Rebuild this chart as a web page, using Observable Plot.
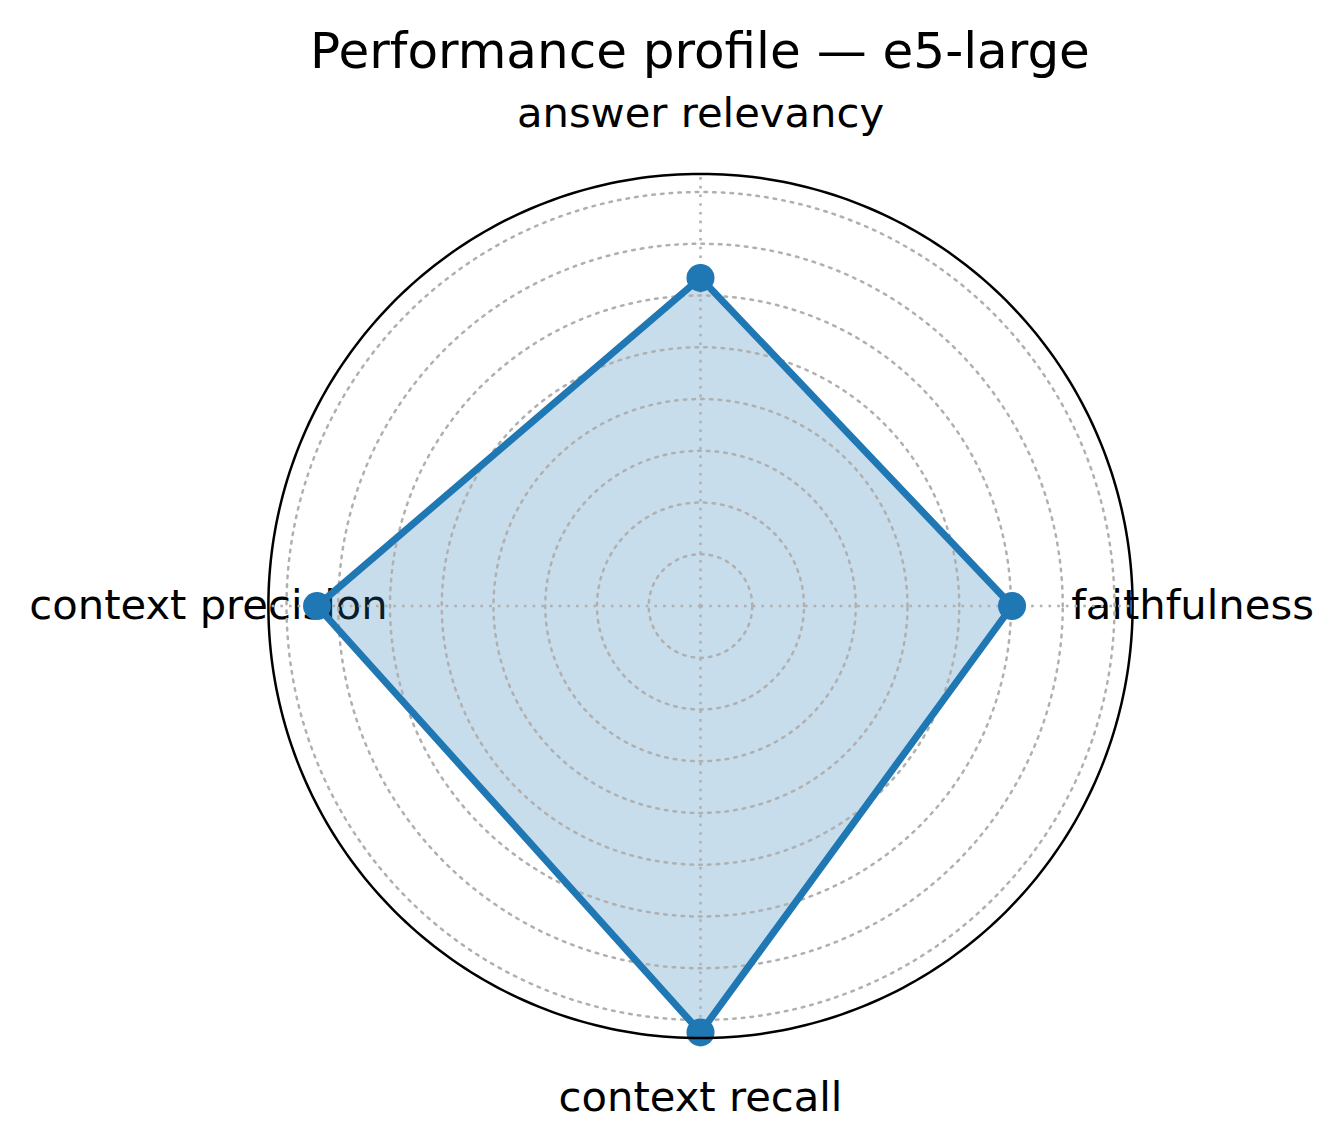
<!DOCTYPE html>
<html>
<head>
<meta charset="utf-8">
<script src="https://cdn.jsdelivr.net/npm/d3@7"></script>
<script src="https://cdn.jsdelivr.net/npm/@observablehq/plot@0.6"></script>
<style>
  html, body { margin: 0; padding: 0; background: #fff; }
  #wrap { width: 1343px; height: 1148px; position: relative; font-family: "DejaVu Sans", sans-serif; }
  #title { box-sizing: border-box; width: 1343px; height: 88px; padding-top: 14px; padding-left: 57px;
           text-align: center; font-size: 50px; line-height: 74px; color: #000; white-space: nowrap; }
  svg { display: block; }
</style>
</head>
<body>
<div id="wrap">
  <div id="title">Performance profile — e5-large</div>
  <div id="chart"></div>
</div>
<script>
// ---- data ----
const categories = ["faithfulness", "answer relevancy", "context precision", "context recall"];
const values = [0.602, 0.634, 0.741, 0.824];
const ringTicks = [0.1, 0.2, 0.3, 0.4, 0.5, 0.6, 0.7, 0.8];
const rMax = 0.835;

// ---- layout ----
const W = 1343, H = 1060;
const unit = 517.5;          // px per 1.0
const cx = 700, cy = 517.5;  // centre in svg px
const labelR = 492 / unit;

const n = categories.length;
const angle = i => (i / n) * 2 * Math.PI; // counter-clockwise from east
const pts = categories.map((c, i) => ({
  cat: c,
  v: values[i],
  x: values[i] * Math.cos(angle(i)),
  y: values[i] * Math.sin(angle(i)),
  lx: labelR * Math.cos(angle(i)),
  ly: labelR * Math.sin(angle(i)),
  sx: rMax * Math.cos(angle(i)),
  sy: rMax * Math.sin(angle(i))
}));
const closed = [...pts, pts[0]];

const circ = (r, k = 360) => d3.range(k + 1).map(j => {
  const a = (j / k) * 2 * Math.PI;
  return {r, x: r * Math.cos(a), y: r * Math.sin(a)};
});
const rings = ringTicks.flatMap(r => circ(r));
const outer = circ(rMax);

const blue = "#1f77b4";
const gridDash = "2.6,6.1";

const chart = Plot.plot({
  width: W,
  height: H,
  margin: 0,
  x: {domain: [-cx / unit, (W - cx) / unit], range: [0, W], axis: null},
  y: {domain: [-(H - cy) / unit, cy / unit], range: [H, 0], axis: null},
  style: {fontFamily: "DejaVu Sans, sans-serif", background: "#fff"},
  marks: [
    Plot.text(pts, {x: "lx", y: "ly", text: "cat", fontSize: 41.7, fill: "#000", textAnchor: "middle"}),
    Plot.area(closed, {x1: "x", y1: "y", x2: 0, y2: 0, fill: blue, fillOpacity: 0.25, curve: "linear"}),
    Plot.line(rings, {x: "x", y: "y", z: "r", stroke: "#b0b0b0", strokeWidth: 2.5, strokeDasharray: gridDash}),
    Plot.link(pts, {x1: 0, y1: 0, x2: "sx", y2: "sy", stroke: "#b0b0b0", strokeWidth: 2.5, strokeDasharray: gridDash}),
    Plot.line(closed, {x: "x", y: "y", stroke: blue, strokeWidth: 7, strokeLinejoin: "round"}),
    Plot.dot(pts, {x: "x", y: "y", r: 14, fill: blue}),
    Plot.line(outer, {x: "x", y: "y", stroke: "#000", strokeWidth: 2.5})
  ]
});
document.getElementById("chart").appendChild(chart);
</script>
</body>
</html>
